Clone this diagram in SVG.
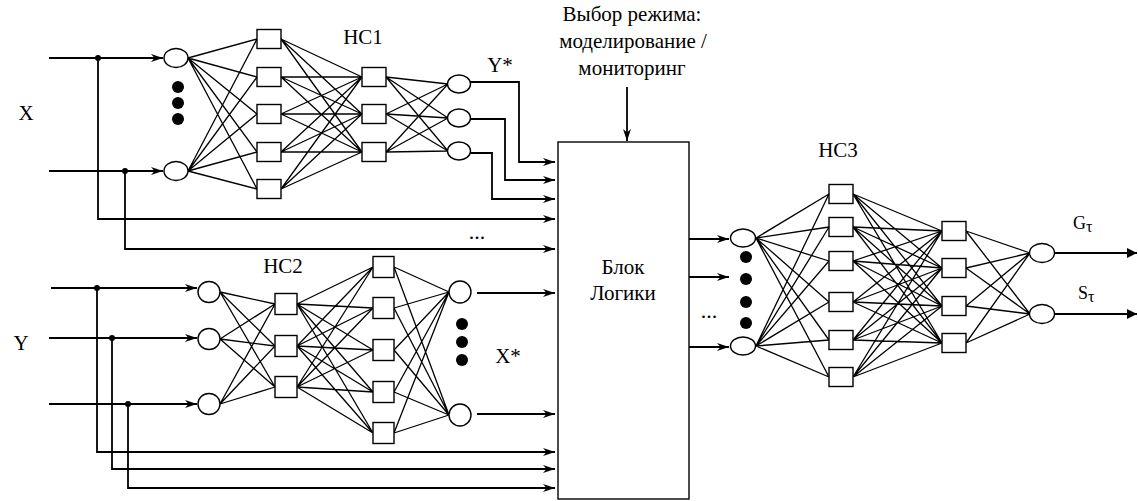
<svg xmlns="http://www.w3.org/2000/svg" width="1138" height="501" viewBox="0 0 1138 501">
<style>
.n{fill:#fff;stroke:#000;stroke-width:1.4}
.w{fill:none;stroke:#000;stroke-width:1.3}
.c{fill:none;stroke:#000;stroke-width:1.8}
.a{marker-end:url(#ah)}
.d{fill:#000}
text{font-family:'Liberation Serif','Times New Roman',serif;fill:#000}
.t{font-size:21px}
.s{font-size:22px}
.m{text-anchor:middle}
</style>
<defs>
<marker id="ah" markerWidth="14" markerHeight="10" refX="12" refY="4.5" orient="auto" markerUnits="userSpaceOnUse"><path d="M0,0.5 L12,4.5 L0,8.5 L3.5,4.5 z" fill="#000"/></marker>
<marker id="tri" markerWidth="12" markerHeight="10" refX="10" refY="5" orient="auto" markerUnits="userSpaceOnUse"><path d="M0,0 L10,5 L0,10 z" fill="#000"/></marker>
</defs>
<rect width="1138" height="501" fill="#fff"/>

<g id="connectors">
<path class="w" d="M188,58 L257,39 M188,58 L257,77 M188,58 L257,114 M188,58 L257,152 M188,58 L257,189 M188,171 L257,39 M188,171 L257,77 M188,171 L257,114 M188,171 L257,152 M188,171 L257,189"/>
<path class="w" d="M281,39 L362,77 M281,39 L362,114 M281,39 L362,152 M281,77 L362,77 M281,77 L362,114 M281,77 L362,152 M281,114 L362,77 M281,114 L362,114 M281,114 L362,152 M281,152 L362,77 M281,152 L362,114 M281,152 L362,152 M281,189 L362,77 M281,189 L362,114 M281,189 L362,152"/>
<path class="w" d="M386,77 L448,84 M386,77 L448,118 M386,77 L448,151 M386,114 L448,84 M386,114 L448,118 M386,114 L448,151 M386,152 L448,84 M386,152 L448,118 M386,152 L448,151"/>
<path class="w" d="M220,292 L275,304 M220,292 L275,346 M220,292 L275,387 M220,339 L275,304 M220,339 L275,346 M220,339 L275,387 M220,404 L275,304 M220,404 L275,346 M220,404 L275,387"/>
<path class="w" d="M297,304 L373,267 M297,304 L373,308 M297,304 L373,350 M297,304 L373,392 M297,304 L373,433 M297,346 L373,267 M297,346 L373,308 M297,346 L373,350 M297,346 L373,392 M297,346 L373,433 M297,387 L373,267 M297,387 L373,308 M297,387 L373,350 M297,387 L373,392 M297,387 L373,433"/>
<path class="w" d="M394,267 L449,292 M394,308 L449,292 M394,350 L449,292 M394,392 L449,292 M394,433 L449,292 M394,267 L449,415 M394,308 L449,415 M394,350 L449,415 M394,392 L449,415 M394,433 L449,415"/>
<path class="w" d="M756,238 L829,194 M756,238 L829,227 M756,238 L829,261 M756,238 L829,302 M756,238 L829,340 M756,238 L829,377 M756,346 L829,194 M756,346 L829,227 M756,346 L829,261 M756,346 L829,302 M756,346 L829,340 M756,346 L829,377"/>
<path class="w" d="M853,194 L942,231 M853,194 L942,268 M853,194 L942,306 M853,194 L942,343 M853,227 L942,231 M853,227 L942,268 M853,227 L942,306 M853,227 L942,343 M853,261 L942,231 M853,261 L942,268 M853,261 L942,306 M853,261 L942,343 M853,302 L942,231 M853,302 L942,268 M853,302 L942,306 M853,302 L942,343 M853,340 L942,231 M853,340 L942,268 M853,340 L942,306 M853,340 L942,343 M853,377 L942,231 M853,377 L942,268 M853,377 L942,306 M853,377 L942,343"/>
<path class="w" d="M966,231 L1030,253 M966,268 L1030,253 M966,306 L1030,253 M966,343 L1030,253 M966,231 L1030,314 M966,268 L1030,314 M966,306 L1030,314 M966,343 L1030,314"/>

<path class="c a" d="M49,58 H163"/>
<path class="c a" d="M49,171 H163"/>
<path class="c a" d="M98,58 V219 H555"/>
<path class="c a" d="M125,171 V249 H555"/>
<path class="c a" d="M470,82 H519 V162 H555"/>
<path class="c a" d="M470,119 H505 V180 H555"/>
<path class="c a" d="M470,153 H492 V199 H555"/>
<path class="c a" d="M51,288 H197"/>
<path class="c a" d="M49,338 H197"/>
<path class="c a" d="M49,404 H197"/>
<path class="c a" d="M97,288 V452 H555"/>
<path class="c a" d="M112,338 V469 H555"/>
<path class="c a" d="M128,404 V488 H555"/>
<path class="c a" d="M477,293 H555"/>
<path class="c a" d="M477,414 H555"/>
<path class="c a" d="M627,87 V141"/>
<path class="c a" d="M689,239 H729"/>
<path class="c a" d="M689,277 H729"/>
<path class="c a" d="M689,347 H729"/>
<path class="c" marker-end="url(#tri)" d="M1055,253 H1137"/>
<path class="c" marker-end="url(#tri)" d="M1055,314 H1137"/>
<circle class="d" cx="98" cy="58" r="3"/>
<circle class="d" cx="125" cy="171" r="3"/>
<circle class="d" cx="97" cy="288" r="3"/>
<circle class="d" cx="112" cy="338" r="3"/>
<circle class="d" cx="128" cy="404" r="3"/>
</g>

<g id="hc1">
<g id="hc1-i1"><ellipse class="n" cx="176" cy="58" rx="12" ry="9.5"/></g>
<g id="hc1-i2"><ellipse class="n" cx="176" cy="171" rx="12" ry="9.5"/></g>
<g id="hc1-h1"><rect class="n" x="257" y="29.5" width="24" height="19"/></g>
<g id="hc1-h2"><rect class="n" x="257" y="67.5" width="24" height="19"/></g>
<g id="hc1-h3"><rect class="n" x="257" y="104.5" width="24" height="19"/></g>
<g id="hc1-h4"><rect class="n" x="257" y="142.5" width="24" height="19"/></g>
<g id="hc1-h5"><rect class="n" x="257" y="179.5" width="24" height="19"/></g>
<g id="hc1-g1"><rect class="n" x="362" y="67.5" width="24" height="19"/></g>
<g id="hc1-g2"><rect class="n" x="362" y="104.5" width="24" height="19"/></g>
<g id="hc1-g3"><rect class="n" x="362" y="142.5" width="24" height="19"/></g>
<g id="hc1-o1"><ellipse class="n" cx="459" cy="84" rx="11.5" ry="9"/></g>
<g id="hc1-o2"><ellipse class="n" cx="459" cy="118" rx="11.5" ry="9"/></g>
<g id="hc1-o3"><ellipse class="n" cx="459" cy="151" rx="11.5" ry="9"/></g>
<circle class="d" cx="178" cy="87" r="6"/>
<circle class="d" cx="178" cy="103" r="6"/>
<circle class="d" cx="178" cy="119" r="6"/>
<text class="t m" x="363" y="44">НС1</text>
</g>

<g id="hc2">
<g id="hc2-i1"><ellipse class="n" cx="209" cy="292" rx="11" ry="10.5"/></g>
<g id="hc2-i2"><ellipse class="n" cx="209" cy="339" rx="11" ry="10.5"/></g>
<g id="hc2-i3"><ellipse class="n" cx="209" cy="404" rx="11" ry="10.5"/></g>
<g id="hc2-h1"><rect class="n" x="275" y="293.5" width="22" height="21"/></g>
<g id="hc2-h2"><rect class="n" x="275" y="335.5" width="22" height="21"/></g>
<g id="hc2-h3"><rect class="n" x="275" y="376.5" width="22" height="21"/></g>
<g id="hc2-g1"><rect class="n" x="373" y="256.5" width="21" height="21"/></g>
<g id="hc2-g2"><rect class="n" x="373" y="297.5" width="21" height="21"/></g>
<g id="hc2-g3"><rect class="n" x="373" y="339.5" width="21" height="21"/></g>
<g id="hc2-g4"><rect class="n" x="373" y="381.5" width="21" height="21"/></g>
<g id="hc2-g5"><rect class="n" x="373" y="422.5" width="21" height="21"/></g>
<g id="hc2-o1"><ellipse class="n" cx="460" cy="292" rx="11" ry="11"/></g>
<g id="hc2-o2"><ellipse class="n" cx="460" cy="415" rx="11" ry="11"/></g>
<circle class="d" cx="462" cy="324" r="6"/>
<circle class="d" cx="462" cy="342" r="6"/>
<circle class="d" cx="462" cy="360" r="6"/>
<text class="t m" x="283" y="273">НС2</text>
</g>

<g id="hc3">
<g id="hc3-i1"><ellipse class="n" cx="743" cy="238" rx="12.5" ry="9"/></g>
<g id="hc3-i2"><ellipse class="n" cx="743" cy="346" rx="12.5" ry="9"/></g>
<g id="hc3-h1"><rect class="n" x="829" y="184.5" width="24" height="19"/></g>
<g id="hc3-h2"><rect class="n" x="829" y="217.5" width="24" height="19"/></g>
<g id="hc3-h3"><rect class="n" x="829" y="251.5" width="24" height="19"/></g>
<g id="hc3-h4"><rect class="n" x="829" y="292.5" width="24" height="19"/></g>
<g id="hc3-h5"><rect class="n" x="829" y="330.5" width="24" height="19"/></g>
<g id="hc3-h6"><rect class="n" x="829" y="367.5" width="24" height="19"/></g>
<g id="hc3-g1"><rect class="n" x="942" y="221.5" width="24" height="19"/></g>
<g id="hc3-g2"><rect class="n" x="942" y="258.5" width="24" height="19"/></g>
<g id="hc3-g3"><rect class="n" x="942" y="296.5" width="24" height="19"/></g>
<g id="hc3-g4"><rect class="n" x="942" y="333.5" width="24" height="19"/></g>
<g id="hc3-o1"><ellipse class="n" cx="1042" cy="253" rx="12.5" ry="9.5"/></g>
<g id="hc3-o2"><ellipse class="n" cx="1042" cy="314" rx="12.5" ry="9.5"/></g>
<circle class="d" cx="746" cy="257" r="6"/>
<circle class="d" cx="746" cy="279" r="6"/>
<circle class="d" cx="746" cy="302" r="6"/>
<circle class="d" cx="746" cy="323" r="6"/>
<text class="t m" x="838" y="157">НС3</text>
</g>

<g id="logic">
<rect class="n" x="558" y="142" width="131" height="357"/>
<text class="t m" x="623" y="274">Блок</text>
<text class="t m" x="623" y="300">Логики</text>
</g>

<g id="labels">
<text class="t m" x="26" y="120">X</text>
<text class="t m" x="21" y="350">Y</text>
<text class="t m" x="500" y="72">Y*</text>
<text class="t m" x="508" y="363">X*</text>
<text class="s m" x="477" y="239">...</text>
<text class="s m" x="709" y="318">...</text>
<text class="t m" x="632" y="21">Выбор режима:</text>
<text class="t m" x="633" y="48">моделирование /</text>
<text class="t m" x="632" y="75">мониторинг</text>
<text x="1073" y="229" font-size="18">G<tspan font-size="16" dy="3">τ</tspan></text>
<text x="1078" y="299" font-size="18">S<tspan font-size="16" dy="3">τ</tspan></text>
</g>
</svg>
